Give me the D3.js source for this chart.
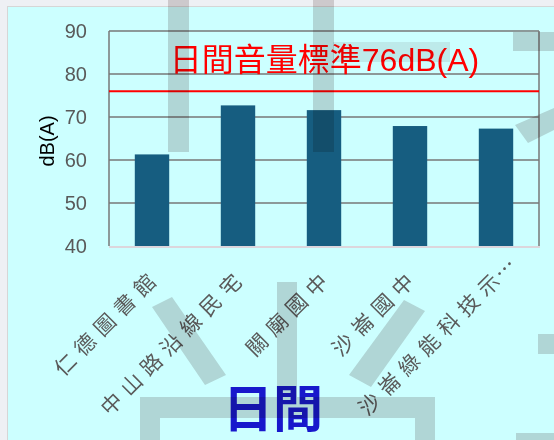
<!DOCTYPE html>
<html>
<head>
<meta charset="utf-8">
<script src="https://cdn.jsdelivr.net/npm/d3@7"></script>
<style>
  body { margin: 0; background: #eef0f4; }
  svg { display: block; }
</style>
</head>
<body>
<script>
'use strict';

// data
const sites = ["仁德圖書館", "中山路沿線民宅", "關廟國中", "沙崙國中", "沙崙綠能科技示…"];
const dayLevels = [61.3, 72.7, 71.6, 67.9, 67.3];
const yTicks = [40, 50, 60, 70, 80, 90];
const standardLevel = 76;
const standardText = "日間音量標準76dB(A)";
const yTitle = "dB(A)";
const chartTitle = "日間";

// background watermark pieces (decoration only)
const watermark = [
  [[168, 0], [189, 0], [189, 152], [168, 152]],
  [[313, 0], [334, 0], [334, 152], [313, 152]],
  [[513, 32], [554, 32], [554, 51], [513, 51]],
  [[515, 125], [554, 108], [554, 130], [528, 143]],
  [[152, 307], [172, 297], [226, 375], [205, 385]],
  [[277, 282], [297, 282], [297, 397], [277, 397]],
  [[404, 300], [425, 311], [371, 387], [349, 375]],
  [[140, 397], [435, 397], [435, 440], [415, 440], [415, 418], [160, 418], [160, 440], [140, 440]],
  [[538, 334], [554, 334], [554, 354], [538, 354]],
  [[516, 433], [554, 433], [554, 440], [516, 440]]
];
const faintPiece = [[333, 42], [450, 42], [450, 62], [333, 62]];

(function() {

  let svgContainer = "";

  window.onload = function() {
    svgContainer = d3.select('body')
      .append('svg')
      .attr('width', 554)
      .attr('height', 440);

    // cyan panel
    svgContainer.append('rect')
      .attr('x', 7.5)
      .attr('y', 6.5)
      .attr('width', 560)
      .attr('height', 450)
      .attr('fill', '#ccffff')
      .attr('stroke', '#d6d6d6');

    let rows = sites.map((s, i) => ({ site: s, level: dayLevels[i] }));
    let scales = drawAxes();
    plotData(rows, scales);
    drawText(scales);
    drawWatermark();
  };

  function drawAxes() {
    let xScale = d3.scaleBand()
      .domain(sites)
      .range([109, 539])
      .paddingInner(0.6)
      .paddingOuter(0.3);

    let yScale = d3.scaleLinear()
      .domain([40, 90])
      .range([246, 31]);

    // gridlines
    svgContainer.append('g')
      .selectAll('line')
      .data(yTicks.filter((t) => t > 40))
      .enter()
      .append('line')
        .attr('x1', 109)
        .attr('x2', 539)
        .attr('y1', (d) => yScale(d))
        .attr('y2', (d) => yScale(d))
        .attr('stroke', '#777')
        .attr('stroke-width', 1.5);

    // frame sides
    [109, 539].forEach((x) => {
      svgContainer.append('line')
        .attr('x1', x).attr('x2', x)
        .attr('y1', yScale(90)).attr('y2', yScale(40))
        .attr('stroke', '#777')
        .attr('stroke-width', 1.5);
    });

    // y axis labels
    let yAxis = d3.axisLeft(yScale)
      .tickValues(yTicks)
      .tickSize(0)
      .tickPadding(22);
    let gy = svgContainer.append('g')
      .attr('transform', 'translate(109, 0)')
      .call(yAxis);
    gy.select('.domain').remove();
    gy.selectAll('text')
      .style('font-family', '"Liberation Sans", Arial, sans-serif')
      .style('font-size', '20px')
      .attr('fill', '#595959');

    return { x: xScale, y: yScale };
  }

  function plotData(rows, scales) {
    svgContainer.selectAll('.bar')
      .data(rows)
      .enter()
      .append('rect')
        .attr('class', 'bar')
        .attr('x', (d) => scales.x(d.site))
        .attr('y', (d) => scales.y(d.level))
        .attr('width', scales.x.bandwidth())
        .attr('height', (d) => scales.y(40) - scales.y(d.level))
        .attr('fill', '#165d80');

    // bottom axis line
    svgContainer.append('line')
      .attr('x1', 109).attr('x2', 540)
      .attr('y1', scales.y(40) + 1).attr('y2', scales.y(40) + 1)
      .attr('stroke', '#dcd6dc')
      .attr('stroke-width', 2);

    // standard line
    svgContainer.append('line')
      .attr('x1', 109).attr('x2', 539)
      .attr('y1', scales.y(standardLevel)).attr('y2', scales.y(standardLevel))
      .attr('stroke', '#ff0000')
      .attr('stroke-width', 2);

    // category labels, rotated
    let labels = svgContainer.append('g');
    sites.forEach((s) => {
      let cut = s.endsWith('…');
      let g = labels.append('g')
        .attr('transform', 'translate(' + (scales.x(s) + scales.x.bandwidth() / 2 + 5) + ', 273) rotate(-45)');
      g.append('text')
        .attr('text-anchor', 'end')
        .attr('dy', '0.35em')
        .style('font-family', '"Noto Sans CJK TC", sans-serif')
        .style('font-size', '21px')
        .style('letter-spacing', '7px')
        .attr('fill', '#5a5a5a')
        .text(cut ? s.slice(0, -1) : s);
      if (cut) {
        g.append('text')
          .attr('x', -5)
          .attr('dy', '0.35em')
          .style('font-family', '"Noto Sans CJK TC", sans-serif')
          .style('font-size', '21px')
          .attr('fill', '#5a5a5a')
          .text('…');
      }
    });
  }

  function drawText(scales) {
    svgContainer.append('text')
      .attr('x', 324.5)
      .attr('y', 71)
      .attr('text-anchor', 'middle')
      .style('font-family', '"Liberation Sans", "Noto Sans CJK TC", sans-serif')
      .style('font-size', '32px')
      .attr('fill', '#ff0000')
      .text(standardText);

    svgContainer.append('text')
      .attr('transform', 'translate(54, 141) rotate(-90)')
      .attr('text-anchor', 'middle')
      .style('font-family', '"Liberation Sans", Arial, sans-serif')
      .style('font-size', '20px')
      .attr('fill', '#000')
      .text(yTitle);

    svgContainer.append('text')
      .attr('x', 273)
      .attr('y', 427)
      .attr('text-anchor', 'middle')
      .style('font-family', '"Noto Sans CJK TC", sans-serif')
      .style('font-size', '50px')
      .style('font-weight', 'bold')
      .attr('fill', '#1818cc')
      .text(chartTitle);
  }

  function drawWatermark() {
    let line = d3.line();
    svgContainer.append('g')
      .style('mix-blend-mode', 'multiply')
      .selectAll('path')
      .data(watermark)
      .enter()
      .append('path')
        .attr('d', (d) => line(d) + 'Z')
        .attr('fill', '#dcd6d6');

    svgContainer.append('path')
      .attr('d', line(faintPiece) + 'Z')
      .attr('fill', '#dcd6d6')
      .attr('opacity', 0.5)
      .style('mix-blend-mode', 'multiply');
  }

})();
</script>
</body>
</html>
